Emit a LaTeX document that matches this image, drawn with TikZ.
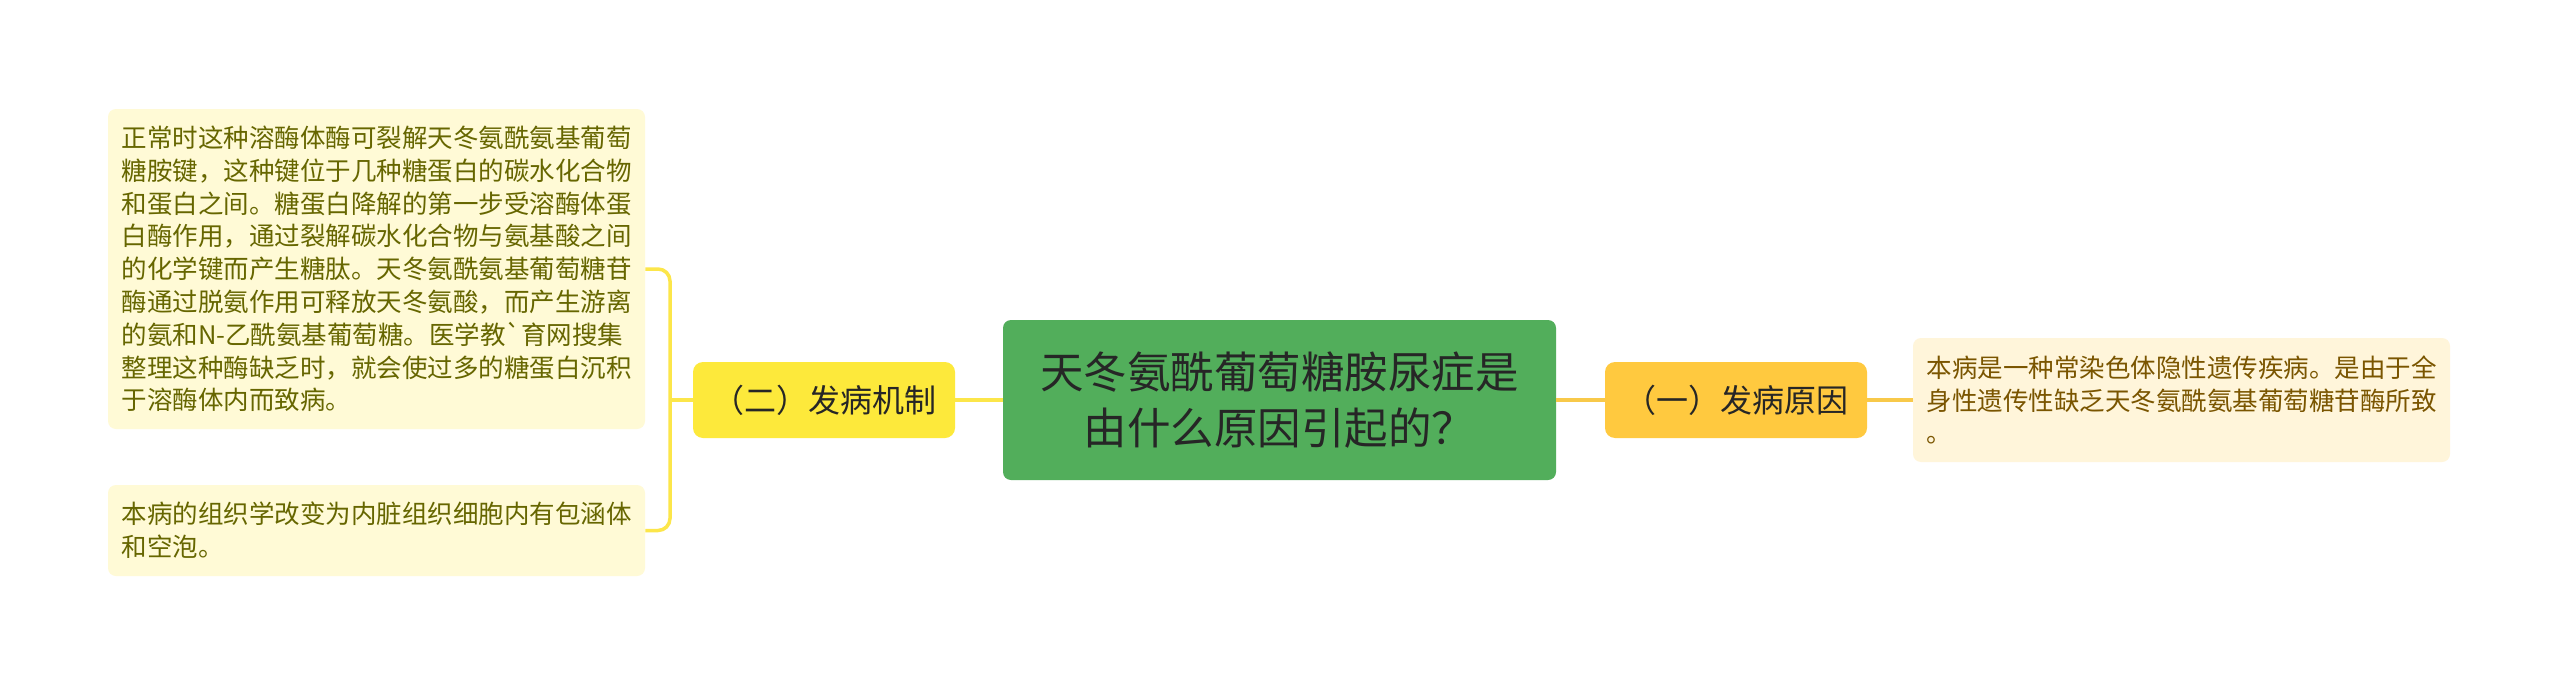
\documentclass[tikz,border=0pt]{standalone}
\usepackage{fontspec}
\newfontfamily\cjk{Noto Sans CJK SC}
\definecolor{cgreen}{HTML}{52AE5B}
\definecolor{cyel}{HTML}{FDE93B}
\definecolor{corg}{HTML}{FFC93F}
\definecolor{lineY}{HTML}{FCE64A}
\definecolor{lineO}{HTML}{F8C94A}
\definecolor{leafYfill}{HTML}{FFFAD6}
\definecolor{leafYtext}{HTML}{666600}
\definecolor{leafOfill}{HTML}{FFF5DA}
\definecolor{leafOtext}{HTML}{7A5500}
\definecolor{darktext}{HTML}{262626}
\tikzset{
  rootbox/.style={fill=cgreen, rounded corners=4pt, minimum width=276.5pt, minimum height=80pt, inner sep=0pt, align=center, text=darktext, font=\cjk\fontsize{21.75pt}{27.75pt}\selectfont},
  midbox/.style={rounded corners=5pt, minimum width=131pt, minimum height=38pt, inner sep=0pt, text=darktext, font=\cjk\fontsize{16pt}{20pt}\selectfont},
  leafbox/.style={rounded corners=4pt, minimum width=268.5pt, inner sep=0pt, align=left, font=\cjk\fontsize{12.75pt}{16.4pt}\selectfont},
  yleaf/.style={leafbox, fill=leafYfill, text=leafYtext},
  oleaf/.style={leafbox, fill=leafOfill, text=leafOtext},
  yconn/.style={draw=lineY, line width=1.75pt},
  oconn/.style={draw=lineO, line width=1.75pt}
}
\begin{document}
\begin{tikzpicture}[x=0.5pt,y=-0.5pt]
\useasboundingbox (0,0) rectangle (2560,685);
\fill[white] (0,0) rectangle (2560,685);
\node[rootbox] (root) at (1279.5,400) {天冬氨酰葡萄糖胺尿症是\\由什么原因引起的？};
\node[midbox, fill=cyel] (mech) at (824,400) {（二）发病机制};
\node[midbox, fill=corg] (cause) at (1736,400) {（一）发病原因};
\node[oleaf, minimum height=62pt] (leafR) at (2181.5,400) {本病是一种常染色体隐性遗传疾病。是由于全\\身性遗传性缺乏天冬氨酰氨基葡萄糖苷酶所致\\。};
\node[yleaf, minimum height=160pt] (leafA) at (376.5,269) {正常时这种溶酶体酶可裂解天冬氨酰氨基葡萄\\糖胺键，这种键位于几种糖蛋白的碳水化合物\\和蛋白之间。糖蛋白降解的第一步受溶酶体蛋\\白酶作用，通过裂解碳水化合物与氨基酸之间\\的化学键而产生糖肽。天冬氨酰氨基葡萄糖苷\\酶通过脱氨作用可释放天冬氨酸，而产生游离\\的氨和N-乙酰氨基葡萄糖。医学教\char96\relax 育网搜集\\整理这种酶缺乏时，就会使过多的糖蛋白沉积\\于溶酶体内而致病。};
\node[yleaf, minimum height=45.5pt] (leafB) at (376.5,530.5) {本病的组织学改变为内脏组织细胞内有包涵体\\和空泡。};
\coordinate (bx) at (670,400);
\draw[oconn] (root.east) -- (cause.west);
\draw[oconn] (cause.east) -- (leafR.west);
\draw[yconn] (root.west) -- (mech.west -| mech.east);
\draw[yconn] (mech.west) -- (bx);
\draw[yconn, rounded corners=6pt] (leafA.east) -| (bx) |- (leafB.east);
\end{tikzpicture}
\end{document}
